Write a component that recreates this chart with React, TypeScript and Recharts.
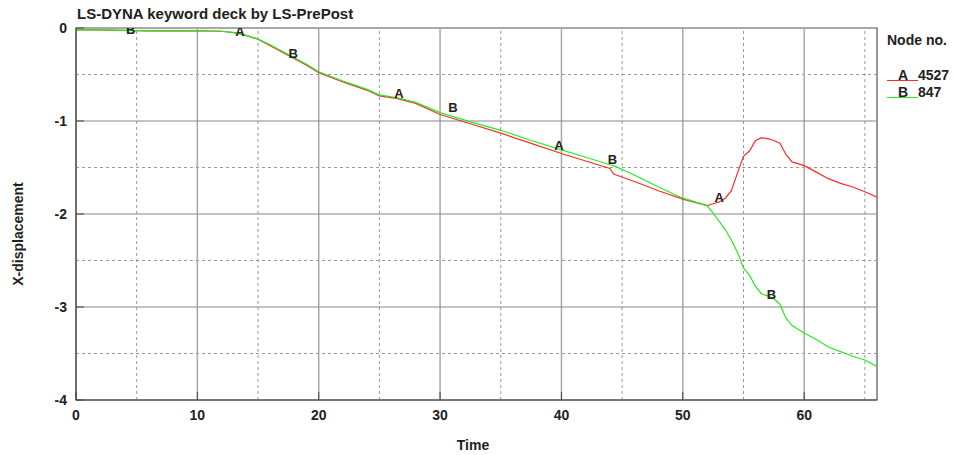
import {
  ComposedChart,
  Line,
  Scatter,
  XAxis,
  YAxis,
  ReferenceLine,
  ReferenceArea,
} from "recharts";

// time axis shared by both nodes
const time = [
  0, 2, 4, 6, 8, 10, 12, 13, 14, 15, 16, 17, 18, 19, 20, 22, 24, 25, 26.5, 28, 30, 32.5, 35, 37.5, 40,
  42, 44, 44.3, 46, 48, 50, 52, 52.5, 53, 53.5, 54, 54.5, 55, 55.5, 56, 56.5, 57, 57.5, 58, 58.5, 59,
  60, 61, 62, 63, 64, 65, 66,
];

// node 4527 (curve A)
const nodeA = [
  -0.02, -0.02, -0.025, -0.03, -0.03, -0.03, -0.035, -0.05, -0.08, -0.12, -0.19, -0.26, -0.33, -0.4,
  -0.48, -0.58, -0.67, -0.73, -0.76, -0.81, -0.93, -1.03, -1.13, -1.24, -1.35, -1.43, -1.51, -1.57,
  -1.65, -1.75, -1.84, -1.91, -1.89, -1.87, -1.83, -1.75, -1.56, -1.38, -1.32, -1.21, -1.18, -1.19,
  -1.21, -1.24, -1.36, -1.44, -1.48, -1.55, -1.62, -1.67, -1.71, -1.76, -1.82,
];

// node 847 (curve B)
const nodeB = [
  -0.02, -0.02, -0.025, -0.03, -0.03, -0.03, -0.035, -0.05, -0.08, -0.12, -0.18, -0.25, -0.32, -0.39,
  -0.47, -0.57, -0.66, -0.72, -0.75, -0.8, -0.91, -1.01, -1.1, -1.21, -1.31, -1.39, -1.47, -1.48,
  -1.58, -1.71, -1.83, -1.91, -1.99, -2.08, -2.17, -2.28, -2.41, -2.58, -2.66, -2.78, -2.86, -2.88,
  -2.91, -2.97, -3.12, -3.2, -3.28, -3.35, -3.43, -3.48, -3.53, -3.57, -3.64,
];

// curve tags drawn along the lines
const tagT = [13.5, 26.6, 39.8, 53, 4.5, 17.9, 31.05, 44.2, 57.3];
const tagV = [-0.04, -0.7, -1.26, -1.82, -0.015, -0.27, -0.85, -1.41, -2.87];
const tagText = ["A", "A", "A", "A", "B", "B", "B", "B", "B"];

const xTicks = [0, 10, 20, 30, 40, 50, 60];
const yTicks = [-4, -3, -2, -1, 0];
const xMinor = [5, 15, 25, 35, 45, 55, 65];
const yMinor = [-3.5, -2.5, -1.5, -0.5];
const xMajorGrid = [10, 20, 30, 40, 50, 60];
const yMajorGrid = [-3, -2, -1];

const FONT = '"Liberation Sans", Arial, sans-serif';

// tick marks point into the plot (tickSize -8), so labels are offset back outward
function XTick({ x, y, payload }: any) {
  return (
    <text x={x} y={y + 28} textAnchor="middle" fontSize={14} fontWeight="bold" fill="#222" fontFamily={FONT}>
      {payload.value}
    </text>
  );
}

function YTick({ x, y, payload }: any) {
  return (
    <text x={x - 17} y={y + 5} textAnchor="end" fontSize={14} fontWeight="bold" fill="#222" fontFamily={FONT}>
      {payload.value}
    </text>
  );
}

export default function App() {
  const data = time.map((t, i) => ({ t, a: nodeA[i], b: nodeB[i] }));
  const tags = tagT.map((t, i) => ({ t, v: tagV[i], tag: tagText[i] }));

  return (
    <div
      style={{
        position: "absolute",
        left: 0,
        top: 0,
        width: 954,
        height: 455,
        background: "#fff",
        fontFamily: FONT,
      }}
    >
      <ComposedChart
        width={954}
        height={455}
        data={data}
        margin={{ top: 28, right: 77, bottom: 25, left: 36 }}
      >
        {xMinor.map((x) => (
          <ReferenceLine key={`xm${x}`} x={x} stroke="#999" strokeDasharray="3 3" />
        ))}
        {yMinor.map((y) => (
          <ReferenceLine key={`ym${y}`} y={y} stroke="#999" strokeDasharray="3 3" />
        ))}
        {xMajorGrid.map((x) => (
          <ReferenceLine key={`xg${x}`} x={x} stroke="#a8a8a8" strokeWidth={1.5} />
        ))}
        {yMajorGrid.map((y) => (
          <ReferenceLine key={`yg${y}`} y={y} stroke="#888" />
        ))}
        <ReferenceArea x1={0} x2={66} y1={-4} y2={0} fill="none" stroke="#555" strokeWidth={1.2} />
        <XAxis
          dataKey="t"
          type="number"
          domain={[0, 66]}
          ticks={xTicks}
          allowDataOverflow
          height={30}
          axisLine={{ stroke: "#444" }}
          tickLine={{ stroke: "#444" }}
          tickSize={-8}
          tickMargin={0}
          tick={<XTick />}
        />
        <YAxis
          type="number"
          domain={[-4, 0]}
          ticks={yTicks}
          allowDataOverflow
          width={40}
          axisLine={{ stroke: "#444" }}
          tickLine={{ stroke: "#444" }}
          tickSize={-8}
          tickMargin={0}
          tick={<YTick />}
        />
        <Line
          type="linear"
          dataKey="a"
          stroke="#ff2a2a"
          strokeWidth={1.2}
          dot={false}
          isAnimationActive={false}
        />
        <Line
          type="linear"
          dataKey="b"
          stroke="#22ee22"
          strokeWidth={1.2}
          dot={false}
          isAnimationActive={false}
        />
        <Scatter
          data={tags}
          dataKey="v"
          isAnimationActive={false}
          shape={(p: any) => (
            <text
              x={p.cx}
              y={p.cy}
              textAnchor="middle"
              dominantBaseline="central"
              fontSize={13}
              fontWeight="bold"
              fill="#222"
              fontFamily={FONT}
            >
              {p.payload.tag}
            </text>
          )}
        />
      </ComposedChart>

      <div
        style={{
          position: "absolute",
          left: 77,
          top: 6,
          fontSize: 15,
          fontWeight: "bold",
          color: "#222",
          lineHeight: "16px",
        }}
      >
        LS-DYNA keyword deck by LS-PrePost
      </div>

      <div
        style={{
          position: "absolute",
          left: 18,
          top: 234,
          transform: "translate(-50%, -50%) rotate(-90deg)",
          fontSize: 14,
          fontWeight: "bold",
          color: "#222",
          whiteSpace: "nowrap",
        }}
      >
        X-displacement
      </div>

      <div
        style={{
          position: "absolute",
          left: 473,
          top: 445,
          transform: "translate(-50%, -50%)",
          fontSize: 14,
          fontWeight: "bold",
          color: "#222",
        }}
      >
        Time
      </div>

      <div style={{ position: "absolute", left: 887, top: 32, fontSize: 14, fontWeight: "bold", color: "#222", lineHeight: "16px" }}>
        Node no.
      </div>
      <LegendRow top={67} tag="A" node="4527" color="#ff2a2a" />
      <LegendRow top={84} tag="B" node="847" color="#22ee22" />
    </div>
  );
}

function LegendRow({ top, tag, node, color }: { top: number; tag: string; node: string; color: string }) {
  return (
    <div style={{ position: "absolute", left: 887, top, height: 16, width: 67, fontSize: 14, fontWeight: "bold", color: "#222", lineHeight: "16px" }}>
      <span style={{ position: "absolute", left: 11 }}>{tag}</span>
      <span style={{ position: "absolute", left: 31 }}>{node}</span>
      <span style={{ position: "absolute", left: 0, top: 13, width: 31, height: 1, background: color }} />
    </div>
  );
}
